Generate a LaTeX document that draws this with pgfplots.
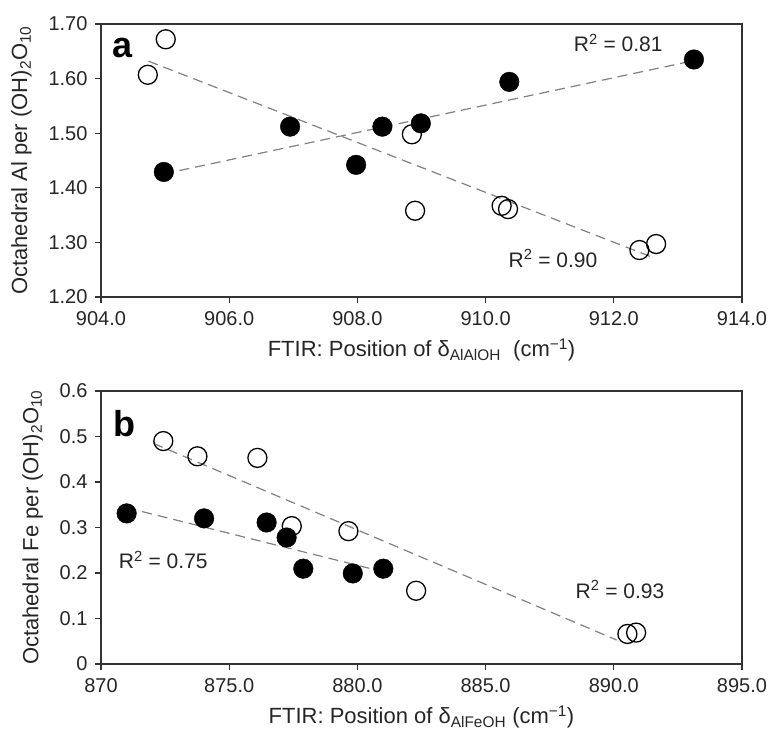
\documentclass[border=0pt]{standalone}
\usepackage{fontspec}
\setmainfont{Liberation Sans}
\usepackage{pgfplots}
\pgfplotsset{compat=1.18}
\begin{document}
\begin{tikzpicture}
\useasboundingbox (0,0) rectangle (768bp,734bp);
\pgfplotsset{
  myax/.style={
    scale only axis, width=641bp, height=273bp,
    axis line style={line width=1.2bp, black!80},
    tick pos=left, tick align=outside, major tick length=6bp,
    tick style={line width=1.2bp, black!80},
    ticklabel style={font=\fontsize{20bp}{22bp}\selectfont, text=black!85},
    xticklabel style={yshift=-5bp},
    yticklabel style={xshift=-4bp},
    label style={font=\fontsize{22bp}{24bp}\selectfont, text=black!85},
    xlabel style={yshift=-6bp},
    ylabel style={yshift=10bp},
    /pgf/number format/assume math mode=true,
    clip=false,
  },
  trend/.style={gray, line width=1.2bp, dash pattern=on 10bp off 6bp},
  opn/.style={only marks, mark=o, mark size=9.5bp, mark options={line width=1.3bp, draw=black, fill=none}},
  fil/.style={only marks, mark=*, mark size=9.8bp, mark options={draw=black, fill=black}},
}
\begin{axis}[myax, at={(101bp,437bp)}, anchor=south west,
  xmin=904, xmax=914, ymin=1.2, ymax=1.7,
  xtick={904,906,908,910,912,914}, ytick={1.2,1.3,1.4,1.5,1.6,1.7},
  xticklabels={904.0,906.0,908.0,910.0,912.0,914.0},
  yticklabels={1.20,1.30,1.40,1.50,1.60,1.70},
  xlabel={FTIR: Position of δ\textsubscript{AlAlOH}\ \ (cm\textsuperscript{−1})},
  ylabel={Octahedral Al per (OH)\textsubscript{2}O\textsubscript{10}},
]
\addplot[trend] coordinates {(904.98,1.4255) (913.25,1.633)};
\addplot[trend] coordinates {(904.74,1.632) (912.64,1.271)};
\addplot[opn] coordinates {(904.73,1.607) (905.01,1.672) (908.85,1.498) (908.90,1.358) (910.25,1.367) (910.35,1.361) (912.40,1.286) (912.66,1.297)};
\addplot[fil] coordinates {(904.98,1.429) (906.95,1.512) (907.98,1.442) (908.39,1.512) (908.99,1.518) (910.37,1.594) (913.25,1.635)};
\node[anchor=base west, font=\fontsize{36bp}{36bp}\selectfont\bfseries] at (axis cs:904.12,1.638) {a};
\node[font=\fontsize{21bp}{22bp}\selectfont, text=black!85] at (axis cs:912.07,1.665) {R\textsuperscript{2} = 0.81};
\node[font=\fontsize{21bp}{22bp}\selectfont, text=black!85] at (axis cs:911.05,1.271) {R\textsuperscript{2} = 0.90};
\end{axis}
\begin{axis}[myax, at={(101bp,70bp)}, anchor=south west,
  xmin=870, xmax=895, ymin=0, ymax=0.6,
  xtick={870,875,880,885,890,895}, ytick={0,0.1,0.2,0.3,0.4,0.5,0.6},
  xticklabels={870,875.0,880.0,885.0,890.0,895.0},
  yticklabels={0,0.1,0.2,0.3,0.4,0.5,0.6},
  xlabel={FTIR: Position of δ\textsubscript{AlFeOH} (cm\textsuperscript{−1})},
  ylabel={Octahedral Fe per (OH)\textsubscript{2}O\textsubscript{10}},
]
\addplot[trend] coordinates {(871.0,0.3435) (880.7,0.207)};
\addplot[trend] coordinates {(872.04,0.485) (890.11,0.0527)};
\addplot[opn] coordinates {(872.43,0.490) (873.76,0.4565) (876.10,0.453) (877.44,0.303) (879.65,0.292) (882.29,0.161) (890.53,0.066) (890.87,0.069)};
\addplot[fil] coordinates {(871.0,0.331) (874.02,0.320) (876.46,0.311) (877.24,0.278) (877.89,0.2095) (879.82,0.199) (881.01,0.2095)};
\node[anchor=base west, font=\fontsize{36bp}{36bp}\selectfont\bfseries] at (axis cs:870.35,0.499) {b};
\node[font=\fontsize{21bp}{22bp}\selectfont, text=black!85] at (axis cs:872.43,0.2286) {R\textsuperscript{2} = 0.75};
\node[font=\fontsize{21bp}{22bp}\selectfont, text=black!85] at (axis cs:890.24,0.164) {R\textsuperscript{2} = 0.93};
\end{axis}
\end{tikzpicture}
\end{document}
